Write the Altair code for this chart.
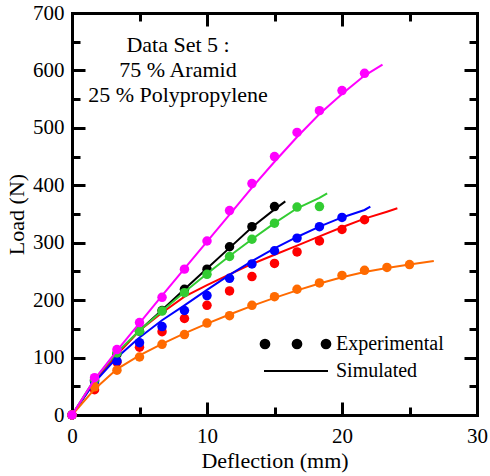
import altair as alt
import pandas as pd

# Deflection grid (mm) at which the experimental loads were recorded
DEFLECTION = [0, 1.67, 3.33, 5, 6.67, 8.33, 10, 11.67, 13.33, 15, 16.67, 18.33, 20, 21.67, 23.33, 25]

# Experimental loads (N), one list per specimen, starting at zero deflection
EXP_BLACK = [0, 60, 106, 146, 182, 219, 254, 293, 328, 363]
EXP_RED = [0, 44, 92, 118, 145, 168, 191, 216, 241, 264, 284, 303, 323, 340]
EXP_BLUE = [0, 58, 94, 126, 154, 182, 208, 238, 263, 286, 308, 328, 344]
EXP_GREEN = [0, 62, 108, 146, 181, 213, 245, 276, 306, 334, 362, 363]
EXP_ORANGE = [0, 49, 78, 101, 123, 140, 160, 173, 191, 206, 219, 230, 243, 252, 257, 262]
EXP_MAGENTA = [0, 65, 114, 161, 205, 254, 303, 356, 403, 450, 492, 530, 565, 595]

# Simulated curves: loads on the same grid, then one final point (end deflection, end load)
SIM_BLACK = [0, 60, 107, 147, 183, 219, 255, 291, 327, 358]
SIM_BLACK_END = (15.8, 372)
SIM_RED = [0, 58, 105, 147, 178, 206, 226, 245, 263, 279, 295, 311, 327, 342, 354]
SIM_RED_END = (24.1, 360)
SIM_BLUE = [0, 57, 100, 135, 165, 191, 218, 244, 268, 290, 310, 328, 344, 357]
SIM_BLUE_END = (22.1, 363)
SIM_GREEN = [0, 62, 109, 147, 181, 214, 246, 277, 306, 334, 360, 378]
SIM_GREEN_END = (18.9, 386)
SIM_ORANGE = [0, 45, 80, 104, 124, 142, 159, 175, 190, 204, 217, 229, 240, 249, 256, 262]
SIM_ORANGE_END = (26.8, 268)
SIM_MAGENTA = [0, 62, 112, 160, 208, 255, 302, 349, 396, 441, 484, 524, 559, 591]
SIM_MAGENTA_END = (23.0, 610)

X_MAJOR = [0, 10, 20, 30]
X_MINOR = [5, 15, 25]
Y_MAJOR = [0, 100, 200, 300, 400, 500, 600, 700]
Y_MINOR = [50, 150, 250, 350, 450, 550, 650]

NOTE_LINES = ["Data Set 5 :", "75 % Aramid", "25 % Polypropylene"]
LEGEND_LABELS = ["Experimental", "Simulated"]

FONT = "Liberation Serif"
W, H = 405, 402
MAJ, MIN = 13, 8

SERIES = [
    ("#000000", EXP_BLACK, SIM_BLACK, SIM_BLACK_END),
    ("#FF0000", EXP_RED, SIM_RED, SIM_RED_END),
    ("#0000FF", EXP_BLUE, SIM_BLUE, SIM_BLUE_END),
    ("#33CC33", EXP_GREEN, SIM_GREEN, SIM_GREEN_END),
    ("#FF6A00", EXP_ORANGE, SIM_ORANGE, SIM_ORANGE_END),
    ("#FF00FF", EXP_MAGENTA, SIM_MAGENTA, SIM_MAGENTA_END),
]

xs = alt.Scale(domain=[0, 30], nice=False)
ys = alt.Scale(domain=[0, 700], nice=False)

frame = dict(domain=True, domainColor="black", domainWidth=3, domainCap="square",
             ticks=False, grid=True, gridColor="black", gridWidth=3, gridOpacity=1)


def tick_dash(length, span):
    # dash pattern on a grid line: a short stroke at each end of the line
    return [length, span - 2 * length, length, 2000]


# bottom / left axes: labels, titles, major inward ticks
x_axis = alt.Axis(values=X_MAJOR, orient="bottom", gridDash=tick_dash(MAJ, H),
                  labelFont=FONT, labelFontSize=21, labelColor="black", labelPadding=10,
                  labelFlush=False, labelOverlap=False,
                  title="Deflection (mm)", titleFont=FONT, titleFontSize=22,
                  titleFontWeight="normal", titleColor="black", titlePadding=4, **frame)
y_axis = alt.Axis(values=Y_MAJOR, orient="left", gridDash=tick_dash(MAJ, W),
                  labelFont=FONT, labelFontSize=21, labelColor="black", labelPadding=8,
                  labelFlush=False, labelOverlap=False,
                  title="Load (N)", titleFont=FONT, titleFontSize=22,
                  titleFontWeight="normal", titleColor="black", titlePadding=4, **frame)
# top / right axes: closing frame lines and minor inward ticks
x_axis_top = alt.Axis(values=X_MINOR, orient="top", gridDash=tick_dash(MIN, H),
                      labels=False, title=None, **frame)
y_axis_right = alt.Axis(values=Y_MINOR, orient="right", gridDash=tick_dash(MIN, W),
                        labels=False, title=None, **frame)

one = pd.DataFrame({"k": [0]})
origin = pd.DataFrame({"deflection": [0], "load": [0]})
layers = []

layers.append(alt.Chart(origin).mark_point(opacity=0).encode(
    x=alt.X("deflection:Q", scale=xs, axis=x_axis), y=alt.Y("load:Q", scale=ys, axis=y_axis)))
layers.append(alt.Chart(origin).mark_point(opacity=0).encode(
    x=alt.X("deflection:Q", scale=xs, axis=x_axis_top),
    y=alt.Y("load:Q", scale=ys, axis=y_axis_right)))

X = alt.X("deflection:Q", scale=xs, axis=None)
Y = alt.Y("load:Q", scale=ys, axis=None)

# simulated curves and experimental points
for color, exp, sim, sim_end in SERIES:
    sim_df = pd.DataFrame({
        "deflection": DEFLECTION[:len(sim)] + [sim_end[0]],
        "load": sim + [sim_end[1]],
    })
    exp_df = pd.DataFrame({"deflection": DEFLECTION[:len(exp)], "load": exp})
    layers.append(alt.Chart(sim_df).mark_line(color=color, strokeWidth=2).encode(x=X, y=Y))
    layers.append(alt.Chart(exp_df).mark_circle(color=color, size=90, opacity=1).encode(x=X, y=Y))

# composition note
for i, line in enumerate(NOTE_LINES):
    layers.append(alt.Chart(pd.DataFrame({"t": [line]})).mark_text(
        font=FONT, fontSize=22, color="black", align="center", baseline="middle").encode(
        text="t:N", x=alt.value(106), y=alt.value(32 + 25 * i)))

# legend
for px in (193, 225, 254):
    layers.append(alt.Chart(one).mark_circle(
        color="black", size=115, opacity=1).encode(x=alt.value(px), y=alt.value(331)))
layers.append(alt.Chart(one).mark_rule(color="black", strokeWidth=2).encode(
    x=alt.value(192), x2=alt.value(256), y=alt.value(358)))
for i, lab in enumerate(LEGEND_LABELS):
    layers.append(alt.Chart(pd.DataFrame({"t": [lab]})).mark_text(
        font=FONT, fontSize=20, color="black", align="left", baseline="middle").encode(
        text="t:N", x=alt.value(264), y=alt.value(331 + 27 * i)))

chart = alt.layer(*layers).resolve_axis(x="independent", y="independent").properties(
    width=W, height=H,
    autosize=alt.AutoSizeParams(type="none"),
    padding={"left": 72, "top": 13, "right": 13, "bottom": 61},
    background="white",
).configure_view(stroke=None)

chart.save("out.html", embed_options={"renderer": "svg", "actions": False})
